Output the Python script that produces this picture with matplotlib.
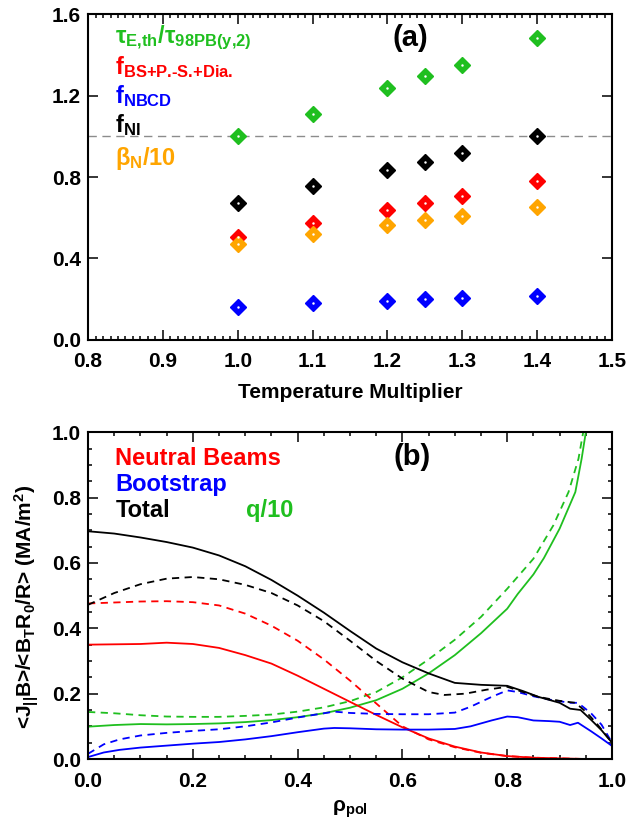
import matplotlib
matplotlib.use("Agg")
import matplotlib.pyplot as plt
from matplotlib.ticker import MultipleLocator

plt.rcParams['font.family'] = ['Liberation Sans', 'DejaVu Sans']
plt.rcParams['font.weight'] = 'bold'
plt.rcParams['mathtext.fontset'] = 'custom'
plt.rcParams['mathtext.rm'] = 'Liberation Sans:bold'
plt.rcParams['mathtext.it'] = 'Liberation Sans:bold'
plt.rcParams['mathtext.bf'] = 'Liberation Sans:bold'
plt.rcParams['mathtext.sf'] = 'Liberation Sans:bold'
plt.rcParams['mathtext.default'] = 'rm'

# ---- (a) scan over temperature multiplier ----
temp_mult = [1.0, 1.1, 1.2, 1.25, 1.3, 1.4]
tau_ratio = [1.00, 1.11, 1.235, 1.294, 1.35, 1.48]
f_bs = [0.505, 0.573, 0.638, 0.672, 0.707, 0.782]
f_nbcd = [0.164, 0.183, 0.193, 0.200, 0.207, 0.217]
f_ni = [0.674, 0.757, 0.834, 0.874, 0.918, 1.00]
beta_n10 = [0.470, 0.520, 0.564, 0.589, 0.610, 0.654]

# ---- (b) current density profiles vs rho_pol ----
rho_tot = [0.00, 0.05, 0.10, 0.15, 0.20, 0.25, 0.30, 0.35, 0.40, 0.45, 0.50, 0.55,
           0.60, 0.65, 0.70, 0.75, 0.80, 0.83, 0.86, 0.90, 0.92, 0.94, 0.96, 0.98, 1.00]
j_tot = [0.697, 0.690, 0.678, 0.664, 0.647, 0.623, 0.590, 0.548, 0.500, 0.448, 0.392, 0.338,
         0.296, 0.262, 0.233, 0.227, 0.224, 0.208, 0.190, 0.172, 0.154, 0.150, 0.120, 0.088, 0.050]

rho_tot2 = [0.00, 0.05, 0.10, 0.15, 0.20, 0.25, 0.30, 0.35, 0.40, 0.45, 0.50, 0.55, 0.60,
            0.65, 0.68, 0.72, 0.76, 0.80, 0.83, 0.86, 0.90, 0.93, 0.95, 0.97, 1.00]
j_tot2 = [0.472, 0.508, 0.535, 0.552, 0.557, 0.550, 0.533, 0.508, 0.470, 0.422, 0.362, 0.300, 0.246,
          0.205, 0.196, 0.200, 0.212, 0.221, 0.205, 0.190, 0.178, 0.172, 0.145, 0.110, 0.050]

rho_nb = [0.00, 0.05, 0.10, 0.15, 0.20, 0.25, 0.30, 0.35, 0.40, 0.45, 0.50, 0.55, 0.60,
          0.65, 0.70, 0.75, 0.80, 0.85, 0.90, 0.95, 1.00]
j_nb = [0.350, 0.351, 0.352, 0.356, 0.352, 0.340, 0.318, 0.292, 0.255, 0.215, 0.175, 0.135, 0.097,
        0.063, 0.038, 0.020, 0.009, 0.004, 0.002, 0.000, 0.000]
j_nb2 = [0.476, 0.479, 0.482, 0.483, 0.480, 0.470, 0.445, 0.408, 0.362, 0.305, 0.240, 0.170, 0.100,
         0.060, 0.036, 0.019, 0.009, 0.004, 0.002, 0.000, 0.000]

rho_bs = [0.00, 0.03, 0.06, 0.10, 0.15, 0.20, 0.25, 0.30, 0.35, 0.40, 0.45, 0.47, 0.50, 0.55,
          0.60, 0.65, 0.70, 0.73, 0.77, 0.80, 0.82, 0.85, 0.88, 0.90, 0.92, 0.935, 0.96, 0.98, 1.00]
j_bs = [0.006, 0.020, 0.028, 0.035, 0.041, 0.047, 0.052, 0.060, 0.070, 0.082, 0.093, 0.095, 0.094, 0.091,
        0.090, 0.090, 0.092, 0.100, 0.118, 0.130, 0.128, 0.118, 0.116, 0.114, 0.104, 0.111, 0.085, 0.063, 0.040]
j_bs2 = [0.016, 0.045, 0.060, 0.072, 0.080, 0.086, 0.091, 0.100, 0.112, 0.127, 0.140, 0.145, 0.141, 0.138,
         0.137, 0.137, 0.142, 0.160, 0.190, 0.210, 0.205, 0.192, 0.182, 0.177, 0.172, 0.172, 0.140, 0.105, 0.050]

rho_q = [0.00, 0.05, 0.10, 0.15, 0.20, 0.25, 0.30, 0.35, 0.40, 0.45, 0.50, 0.55, 0.60, 0.65,
         0.70, 0.75, 0.80, 0.82, 0.85, 0.87, 0.90, 0.93, 0.942, 0.950]
q10 = [0.099, 0.104, 0.107, 0.106, 0.107, 0.109, 0.113, 0.119, 0.128, 0.140, 0.157, 0.180, 0.215, 0.262,
       0.318, 0.385, 0.460, 0.505, 0.565, 0.615, 0.705, 0.817, 0.919, 1.000]
rho_q2 = [0.00, 0.05, 0.10, 0.15, 0.20, 0.25, 0.30, 0.35, 0.40, 0.45, 0.50, 0.55, 0.60, 0.65,
          0.70, 0.75, 0.80, 0.85, 0.888, 0.917, 0.936, 0.945]
q10_2 = [0.144, 0.140, 0.134, 0.130, 0.129, 0.129, 0.132, 0.136, 0.145, 0.158, 0.177, 0.205, 0.250, 0.305,
         0.365, 0.435, 0.521, 0.613, 0.715, 0.817, 0.919, 1.000]

GREEN = '#1fbf1f'
RED = '#ff0000'
BLUE = '#0000ff'
ORANGE = '#ffa500'
BLACK = '#000000'

fig = plt.figure(figsize=(6.29, 8.21), dpi=100)
ax1 = fig.add_axes([0.140, 0.5859, 0.833, 0.397])
ax2 = fig.add_axes([0.140, 0.0755, 0.833, 0.398])


def style_axes(ax):
    for sp in ax.spines.values():
        sp.set_linewidth(1.5)
    ax.tick_params(which='both', direction='in', top=True, right=True, width=1.1,
                   labelsize=15)
    ax.tick_params(which='major', length=7)
    ax.tick_params(which='minor', length=3)
    for lab in ax.get_xticklabels() + ax.get_yticklabels():
        lab.set_fontweight('bold')


# panel (a)
ax1.axhline(1.0, color='#8c8c8c', lw=1.0, ls=(0, (6, 4)), zorder=1)
for vals, col in [(tau_ratio, GREEN), (f_ni, BLACK), (f_bs, RED), (beta_n10, ORANGE), (f_nbcd, BLUE)]:
    ax1.plot(temp_mult, vals, ls='none', marker='D', ms=8.5, mfc=col, mec=col, mew=1.0, zorder=3)
    ax1.plot(temp_mult, vals, ls='none', marker='o', ms=1.4, mfc='white', mec='white', mew=0.3,
             zorder=4)
ax1.set_xlim(0.8, 1.5)
ax1.set_ylim(0.0, 1.6)
ax1.xaxis.set_major_locator(MultipleLocator(0.1))
ax1.xaxis.set_minor_locator(MultipleLocator(0.01))
ax1.yaxis.set_major_locator(MultipleLocator(0.4))
style_axes(ax1)
ax1.tick_params(axis='x', which='both', pad=9)
ax1.tick_params(axis='y', which='both', pad=5)

lx = 0.052
ax1.text(lx, 0.911, r'$\tau_{\text{E,th}}/\tau_{\text{98PB(y,2)}}$', color=GREEN, fontsize=17,
         transform=ax1.transAxes, va='baseline')
ax1.text(lx, 0.816, r'$f_{\text{BS+P.-S.+Dia.}}$', color=RED, fontsize=17,
         transform=ax1.transAxes, va='baseline')
ax1.text(lx, 0.727, r'$f_{\text{NBCD}}$', color=BLUE, fontsize=17,
         transform=ax1.transAxes, va='baseline')
ax1.text(lx, 0.638, r'$f_{\text{NI}}$', color=BLACK, fontsize=17,
         transform=ax1.transAxes, va='baseline')
ax1.text(lx, 0.537, r'$\beta_{\text{N}}/10$', color=ORANGE, fontsize=17,
         transform=ax1.transAxes, va='baseline')
ax1.text(0.616, 0.926, '(a)', fontsize=21, fontweight='bold', transform=ax1.transAxes,
         ha='center', va='center')
fig.text(0.5564, (821 - 392) / 821, 'Temperature Multiplier', fontsize=15, fontweight='bold',
         ha='center', va='center')

# panel (b)
lw = 1.3
ax2.plot(rho_q, q10, color=GREEN, lw=lw)
ax2.plot(rho_q2, q10_2, color=GREEN, lw=lw, ls=(0, (4, 3)))
ax2.plot(rho_nb, j_nb, color=RED, lw=lw)
ax2.plot(rho_nb, j_nb2, color=RED, lw=lw, ls=(0, (4, 3)))
ax2.plot(rho_bs, j_bs, color=BLUE, lw=lw)
ax2.plot(rho_bs, j_bs2, color=BLUE, lw=lw, ls=(0, (4, 3)))
ax2.plot(rho_tot, j_tot, color=BLACK, lw=lw)
ax2.plot(rho_tot2, j_tot2, color=BLACK, lw=lw, ls=(0, (4, 3)))
ax2.set_xlim(0.0, 1.0)
ax2.set_ylim(0.0, 1.0)
ax2.xaxis.set_major_locator(MultipleLocator(0.2))
ax2.xaxis.set_minor_locator(MultipleLocator(0.05))
ax2.yaxis.set_major_locator(MultipleLocator(0.2))
ax2.yaxis.set_minor_locator(MultipleLocator(0.05))
style_axes(ax2)
ax2.tick_params(axis='x', which='both', pad=9)
ax2.tick_params(axis='y', which='both', pad=5)

ax2.text(0.052, 0.899, 'Neutral Beams', color=RED, fontsize=17, fontweight='bold',
         transform=ax2.transAxes, va='baseline')
ax2.text(0.052, 0.820, 'Bootstrap', color=BLUE, fontsize=17, fontweight='bold',
         transform=ax2.transAxes, va='baseline')
ax2.text(0.052, 0.741, 'Total', color=BLACK, fontsize=17, fontweight='bold',
         transform=ax2.transAxes, va='baseline')
ax2.text(0.301, 0.741, 'q/10', color=GREEN, fontsize=17, fontweight='bold',
         transform=ax2.transAxes, va='baseline')
ax2.text(0.618, 0.924, '(b)', fontsize=21, fontweight='bold', transform=ax2.transAxes,
         ha='center', va='center')
fig.text(27 / 629, (821 - 607) / 821,
         r'<J$_{||}$B>/<B$_{\text{T}}$R$_{0}$/R> (MA/m$^{2}$)', fontsize=15, fontweight='bold',
         rotation=90, ha='center', va='center')
fig.text(0.5564, (821 - 809) / 821, r'$\rho_{\text{pol}}$', fontsize=15,
         ha='center', va='center')

fig.savefig('out.png', dpi=100)
